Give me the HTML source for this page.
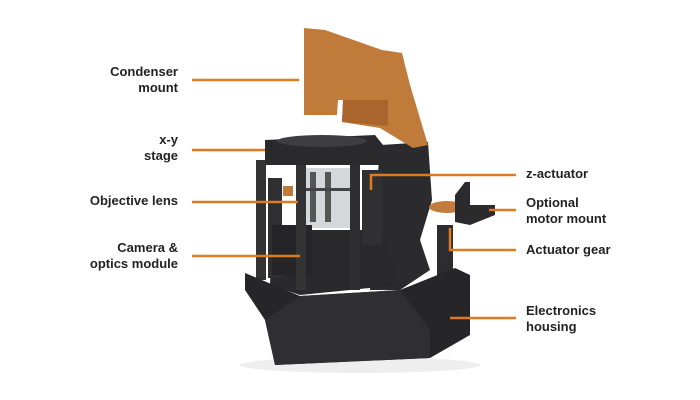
<!DOCTYPE html>
<html><head><meta charset="utf-8"><style>
body{margin:0;background:#fff;width:700px;height:400px;overflow:hidden;position:relative;font-family:"Liberation Sans",sans-serif}
.l{position:absolute;font-weight:bold;font-size:13px;line-height:16px;color:#222}
.r{text-align:right;right:522px}
svg{position:absolute;left:0;top:0}
</style></head><body>
<svg width="700" height="400">
<ellipse cx="360" cy="365" rx="120" ry="8" fill="#eee"/>
<!-- back body -->
<polygon points="380,145 428,142 432,200 420,240 430,270 400,290 370,290" fill="#2b2b2d"/>
<!-- condenser -->
<polygon points="304,28 325,30 382,50 402,53 410,85 428,145 413,148 380,128 342,122 343,100 338,100 337,115 304,115" fill="#c07a3a"/>
<polygon points="343,100 388,100 388,126 342,122" fill="#a9652c"/>
<!-- mid dark mass -->
<polygon points="272,230 380,230 400,285 300,295 270,285" fill="#29292b"/>
<!-- posts -->
<rect x="256" y="160" width="10" height="120" fill="#333"/>
<rect x="268" y="178" width="14" height="100" fill="#2f2f31"/>
<rect x="283" y="186" width="10" height="10" fill="#c07a3a"/>
<!-- lens -->
<rect x="300" y="168" width="50" height="60" fill="#d5d7da"/>
<rect x="310" y="172" width="6" height="50" fill="#555"/>
<rect x="325" y="172" width="6" height="50" fill="#555"/>
<rect x="300" y="188" width="50" height="3" fill="#444"/>
<rect x="272" y="225" width="40" height="50" fill="#252527"/>
<!-- stage -->
<polygon points="265,140 375,135 383,145 383,165 265,165" fill="#2a2a2c"/>
<ellipse cx="322" cy="141" rx="45" ry="6" fill="#3e3e40"/>
<rect x="296" y="165" width="10" height="125" fill="#333"/>
<rect x="350" y="165" width="10" height="125" fill="#2e2e30"/>
<rect x="362" y="170" width="20" height="75" fill="#303032"/>
<!-- right gear/mount -->
<rect x="437" y="225" width="16" height="90" fill="#2d2d2f"/>
<ellipse cx="447" cy="207" rx="18" ry="6" fill="#c27d3e"/>
<polygon points="455,195 465,182 470,182 470,205 495,205 495,215 470,225 455,222" fill="#2b2b2d"/>
<rect x="462" y="277" width="8" height="25" fill="#c07a3a"/>
<!-- base -->
<polygon points="245,273 300,296 400,290 455,268 470,275 470,335 430,358 275,365 265,320 245,290" fill="#262628"/>
<polygon points="265,320 300,296 400,290 430,330 430,358 275,365" fill="#2f2f31"/>
<g stroke="#e07a1f" stroke-width="2.5" fill="none">
<line x1="192" y1="80" x2="299" y2="80"/>
<line x1="192" y1="150" x2="265" y2="150"/>
<line x1="192" y1="202" x2="298" y2="202"/>
<line x1="192" y1="256" x2="300" y2="256"/>
<polyline points="371,190 371,175 516,175"/>
<line x1="489" y1="210" x2="516" y2="210"/>
<polyline points="450,228 450,250 516,250"/>
<line x1="450" y1="318" x2="516" y2="318"/>
</g>
</svg>
<div class="l r" style="top:64px">Condenser<br>mount</div>
<div class="l r" style="top:132px">x-y<br>stage</div>
<div class="l r" style="top:193px">Objective lens</div>
<div class="l r" style="top:240px">Camera &amp;<br>optics module</div>
<div class="l" style="left:526px;top:166px">z-actuator</div>
<div class="l" style="left:526px;top:195px">Optional<br>motor mount</div>
<div class="l" style="left:526px;top:242px">Actuator gear</div>
<div class="l" style="left:526px;top:303px">Electronics<br>housing</div>
</body></html>
